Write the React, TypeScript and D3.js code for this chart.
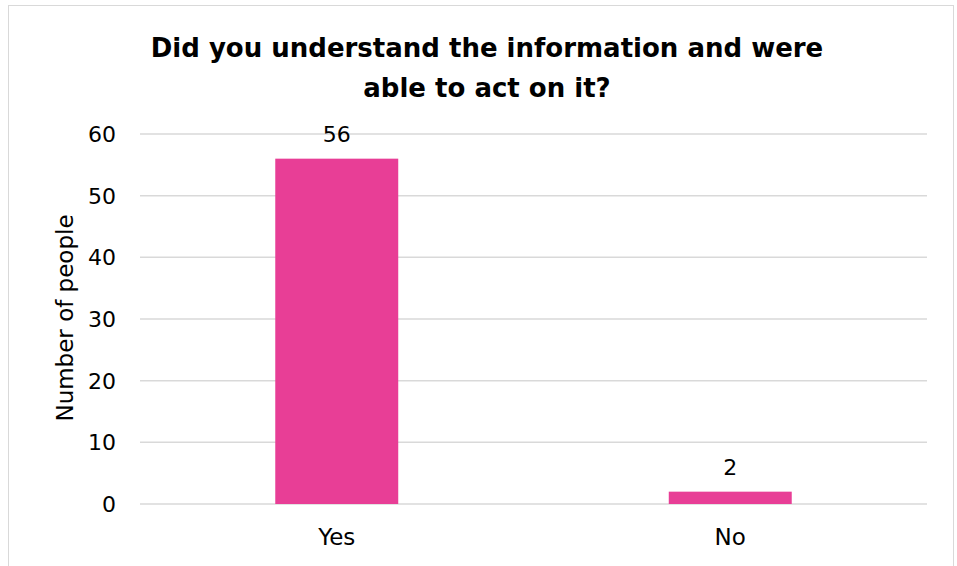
import React from "react";
import * as d3 from "d3";

const categories = ["Yes", "No"];
const values = [56, 2];
const yTicks = [0, 10, 20, 30, 40, 50, 60];
const titleLines = ["Did you understand the information and were", "able to act on it?"];
const yAxisTitle = "Number of people";

export default function App() {
  const W = 957, H = 566;
  const left = 140, right = 927, top = 134, bottom = 504;
  const x = d3.scaleBand<string>().domain(categories).range([left, right]).padding(0);
  const y = d3.scaleLinear().domain([0, 60]).range([bottom, top]);
  const barW = x.bandwidth() * 0.3125;
  const font = "'DejaVu Sans', sans-serif";
  return (
    <svg width={W} height={H} style={{ position: "absolute", left: 0, top: 0, background: "#fff" }}>
      <rect x={8.5} y={5.5} width={945} height={600} fill="#fff" stroke="#d9d9d9" strokeWidth={1} />
      {titleLines.map((t, i) => (
        <text key={i} x={487} y={57 + i * 40} textAnchor="middle" fontFamily={font} fontWeight="bold" fontSize={26} fill="#000">
          {t}
        </text>
      ))}
      {yTicks.map((t) => (
        <g key={t}>
          <line x1={left} x2={right} y1={y(t)} y2={y(t)} stroke="#d9d9d9" strokeWidth={1.5} />
          <text x={116} y={y(t)} dy="0.36em" textAnchor="end" fontFamily={font} fontSize={22} fill="#000">
            {t}
          </text>
        </g>
      ))}
      {categories.map((c, i) => {
        const cx = (x(c) as number) + x.bandwidth() / 2;
        return (
          <g key={c}>
            <rect x={cx - barW / 2} y={y(values[i])} width={barW} height={bottom - y(values[i])} fill="#E83E96" />
            <text x={cx} y={y(values[i]) - 25} dy="0.36em" textAnchor="middle" fontFamily={font} fontSize={22} fill="#000">
              {values[i]}
            </text>
            <text x={cx} y={537} dy="0.36em" textAnchor="middle" fontFamily={font} fontSize={23} fill="#000">
              {c}
            </text>
          </g>
        );
      })}
      <text transform={`translate(65,${318}) rotate(-90)`} textAnchor="middle" dy="0.36em" fontFamily={font} fontSize={23} fill="#000">
        {yAxisTitle}
      </text>
    </svg>
  );
}
